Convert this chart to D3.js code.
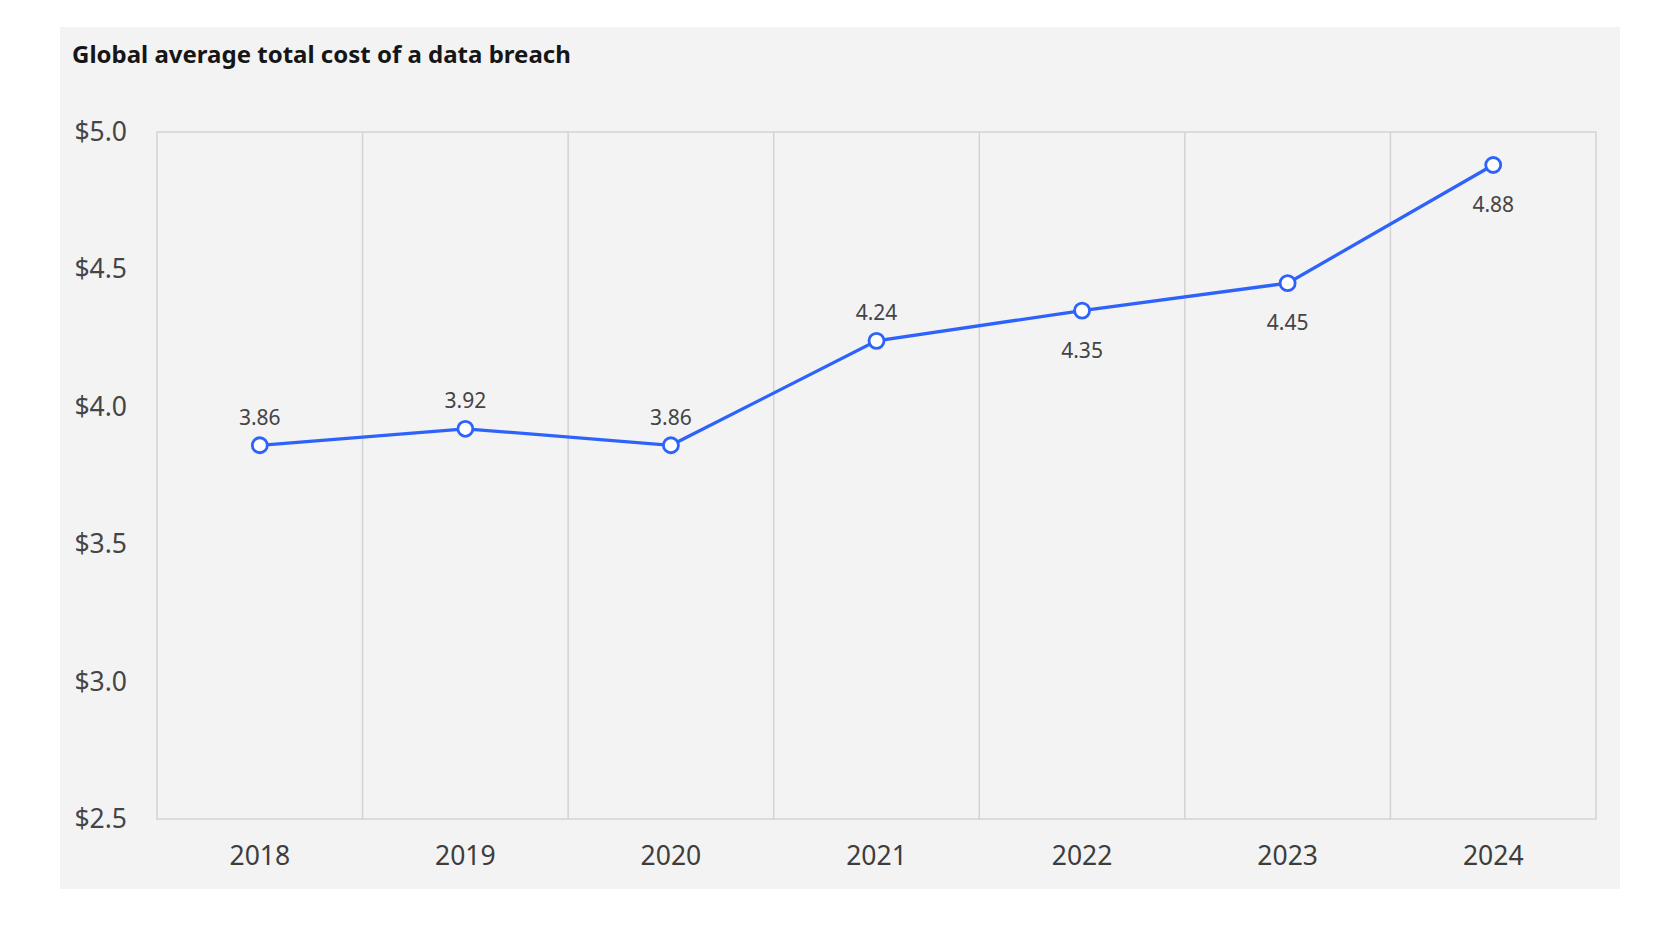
<!DOCTYPE html>
<html>
<head>
<meta charset="utf-8">
<script src="https://cdn.jsdelivr.net/npm/d3@7/dist/d3.min.js"></script>
<style>
  html, body { margin: 0; padding: 0; background: #ffffff; }
  svg { display: block; font-family: "Noto Sans", "Open Sans", sans-serif; }
</style>
</head>
<body>
<div id="chart"></div>
<script>
// values as printed on the chart
const years = ['2018', '2019', '2020', '2021', '2022', '2023', '2024'];
const cost = [3.86, 3.92, 3.86, 4.24, 4.35, 4.45, 4.88];
const yTicks = [2.5, 3.0, 3.5, 4.0, 4.5, 5.0];
// which side of the point the value label sits on
const labelSide = ['above', 'above', 'above', 'above', 'below', 'below', 'below'];

const width = 1660;
const height = 930;
const plot = {left: 157, right: 1596, top: 132, bottom: 819};
const blue = '#2e63fb';
const gridColour = '#d3d3d7';

const svg = d3.select('#chart')
    .append('svg')
        .attr('width', width)
        .attr('height', height);

// grey card behind everything
svg.append('rect')
    .attr('x', 60)
    .attr('y', 27)
    .attr('width', 1560)
    .attr('height', 862)
    .attr('fill', '#f3f3f3');

svg.append('text')
    .attr('x', 72)
    .attr('y', 63)
    .attr('font-size', 24)
    .attr('font-weight', 700)
    .attr('fill', '#161616')
    .text('Global average total cost of a data breach');

const xScale = d3.scaleBand()
    .domain(years)
    .range([plot.left, plot.right])
    .padding(0);

const yScale = d3.scaleLinear()
    .domain([2.5, 5.0])
    .range([plot.bottom, plot.top]);

// vertical grid lines between the years
svg.append('g')
    .selectAll('line')
    .data(years.slice(1))
    .enter()
        .append('line')
            .attr('x1', (d) => xScale(d))
            .attr('x2', (d) => xScale(d))
            .attr('y1', plot.top)
            .attr('y2', plot.bottom)
            .attr('stroke', gridColour)
            .attr('stroke-width', 1.5);

// frame round the plot
svg.append('rect')
    .attr('x', plot.left)
    .attr('y', plot.top)
    .attr('width', plot.right - plot.left)
    .attr('height', plot.bottom - plot.top)
    .attr('fill', 'none')
    .attr('stroke', gridColour)
    .attr('stroke-width', 1.5);

const yAxis = svg.append('g')
    .attr('transform', `translate(${plot.left}, 0)`)
    .call(d3.axisLeft(yScale)
        .tickValues(yTicks)
        .tickSize(0)
        .tickPadding(30)
        .tickFormat((d) => '$' + d3.format('.1f')(d)));
yAxis.select('.domain').remove();
yAxis.selectAll('text')
    .attr('font-size', 26.5)
    .attr('font-family', '"Noto Sans", sans-serif')
    .attr('fill', '#454545');

const xAxis = svg.append('g')
    .attr('transform', `translate(0, ${plot.bottom})`)
    .call(d3.axisBottom(xScale)
        .tickSize(0)
        .tickPadding(27));
xAxis.select('.domain').remove();
xAxis.selectAll('text')
    .attr('font-size', 26.5)
    .attr('font-family', '"Noto Sans", sans-serif')
    .attr('fill', '#3d3d3d');

const points = years.map((year, i) => ({year: year, value: cost[i], side: labelSide[i]}));

const line = d3.line()
    .x((d) => xScale(d.year) + xScale.bandwidth() / 2)
    .y((d) => yScale(d.value));

svg.append('path')
    .datum(points)
    .attr('d', line)
    .attr('fill', 'none')
    .attr('stroke', blue)
    .attr('stroke-width', 3.3);

svg.append('g')
    .selectAll('circle')
    .data(points)
    .enter()
        .append('circle')
            .attr('cx', (d) => xScale(d.year) + xScale.bandwidth() / 2)
            .attr('cy', (d) => yScale(d.value))
            .attr('r', 7.5)
            .attr('fill', '#ffffff')
            .attr('stroke', blue)
            .attr('stroke-width', 2.8);

svg.append('g')
    .selectAll('text')
    .data(points)
    .enter()
        .append('text')
            .attr('x', (d) => xScale(d.year) + xScale.bandwidth() / 2)
            .attr('y', (d) => yScale(d.value) + (d.side === 'above' ? -28 : 40))
            .attr('dy', '0.35em')
            .attr('text-anchor', 'middle')
            .attr('font-size', 21)
            .attr('fill', '#444444')
            .text((d) => d.value.toFixed(2));
</script>
</body>
</html>
